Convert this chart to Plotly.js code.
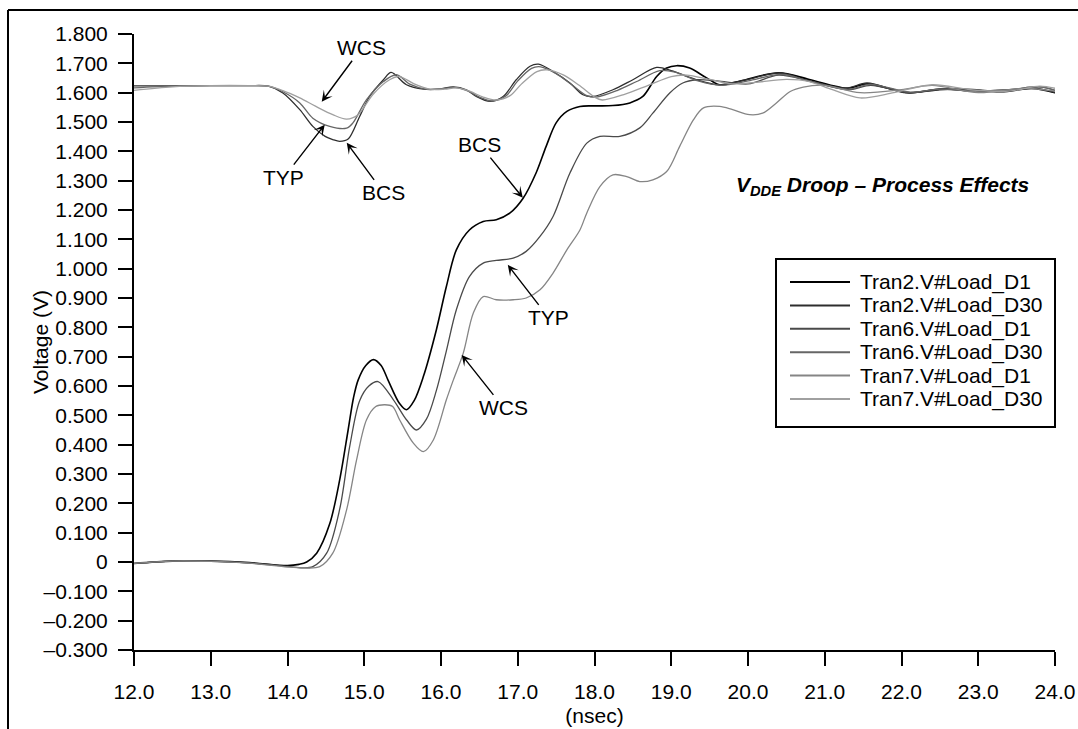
<!DOCTYPE html>
<html>
<head>
<meta charset="utf-8">
<script src="https://cdn.plot.ly/plotly-3.0.1.min.js"></script>
<style>html,body{margin:0;padding:0;background:#fff;}#chart{width:1078px;height:729px;}</style>
</head>
<body>
<div id="chart"></div>
<script>
// ---- Data (time in nsec, voltage in V) ----
const seriesNames = ["Tran2.V#Load_D1","Tran2.V#Load_D30","Tran6.V#Load_D1","Tran6.V#Load_D30","Tran7.V#Load_D1","Tran7.V#Load_D30"];

// BCS rising
const tran2_d1_t = [12.0,12.5,13.0,13.5,14.0,14.15,14.25,14.38,14.55,14.68,14.79,14.86,14.92,15.02,15.12,15.22,15.31,15.46,15.55,15.65,15.77,15.94,16.07,16.2,16.37,16.55,16.72,16.9,17.07,17.24,17.37,17.5,17.64,17.81,17.98,18.24,18.46,18.63,18.81,18.94,19.07,19.24,19.45,19.63,19.9,20.4,20.8,21.3,21.55,22.1,22.5,22.85,23.3,23.7,24.0];
const tran2_d1_v = [-0.005,0.003,0.003,-0.002,-0.012,-0.008,0.0,0.03,0.13,0.28,0.45,0.56,0.62,0.67,0.69,0.67,0.62,0.54,0.519,0.55,0.632,0.792,0.939,1.064,1.132,1.161,1.167,1.19,1.24,1.327,1.417,1.497,1.536,1.553,1.555,1.556,1.565,1.587,1.655,1.684,1.692,1.684,1.652,1.627,1.64,1.668,1.645,1.615,1.63,1.6,1.612,1.61,1.603,1.614,1.6];

// BCS droop
const tran2_d30_t = [12.0,12.5,13.0,13.5,13.75,13.94,14.16,14.33,14.49,14.59,14.68,14.79,14.94,15.07,15.25,15.35,15.55,15.77,15.98,16.16,16.33,16.46,16.64,16.81,16.98,17.16,17.27,17.46,17.68,17.85,17.98,18.24,18.5,18.81,19.0,19.33,19.63,19.98,20.41,20.8,21.28,21.55,22.07,22.5,22.85,23.3,23.71,24.0];
const tran2_d30_v = [1.623,1.623,1.624,1.624,1.622,1.599,1.542,1.485,1.451,1.44,1.434,1.442,1.519,1.587,1.644,1.669,1.627,1.612,1.612,1.62,1.61,1.587,1.57,1.587,1.644,1.69,1.697,1.672,1.633,1.593,1.587,1.61,1.644,1.686,1.675,1.644,1.627,1.644,1.667,1.64,1.616,1.633,1.599,1.61,1.612,1.605,1.616,1.6];

// TYP rising
const tran6_d1_t = [12.0,12.5,13.0,13.5,14.0,14.2,14.33,14.51,14.68,14.81,14.94,15.06,15.18,15.38,15.55,15.68,15.81,15.94,16.07,16.2,16.37,16.55,16.72,16.94,17.11,17.29,17.46,17.68,17.9,18.07,18.33,18.59,18.76,18.98,19.15,19.33,19.6,20.0,20.4,20.8,21.3,21.6,22.1,22.5,22.9,23.4,23.8,24.0];
const tran6_d1_v = [-0.005,0.003,0.003,-0.003,-0.015,-0.02,-0.016,0.03,0.18,0.393,0.55,0.6,0.615,0.553,0.485,0.45,0.487,0.585,0.72,0.86,0.973,1.019,1.028,1.036,1.059,1.11,1.178,1.326,1.428,1.451,1.451,1.48,1.53,1.599,1.633,1.644,1.64,1.63,1.66,1.64,1.61,1.625,1.6,1.612,1.606,1.61,1.62,1.608];

// TYP droop
const tran6_d30_t = [12.0,12.5,13.0,13.5,13.75,13.94,14.16,14.33,14.55,14.77,14.85,15.03,15.25,15.42,15.6,15.8,16.0,16.16,16.33,16.5,16.66,16.85,17.0,17.18,17.3,17.5,17.7,17.9,18.02,18.3,18.55,18.85,19.05,19.35,19.65,20.0,20.45,20.85,21.3,21.6,22.1,22.5,22.9,23.4,23.8,24.0];
const tran6_d30_v = [1.616,1.622,1.624,1.624,1.622,1.603,1.565,1.513,1.485,1.479,1.496,1.576,1.638,1.661,1.628,1.612,1.613,1.618,1.608,1.585,1.572,1.59,1.64,1.683,1.688,1.665,1.628,1.59,1.585,1.608,1.638,1.675,1.67,1.64,1.625,1.64,1.662,1.635,1.612,1.628,1.602,1.612,1.606,1.61,1.62,1.608];

// WCS rising
const tran7_d1_t = [12.0,12.5,13.0,13.5,14.0,14.2,14.42,14.59,14.77,14.9,15.03,15.15,15.27,15.37,15.46,15.64,15.77,15.9,16.07,16.16,16.29,16.42,16.55,16.72,16.94,17.11,17.29,17.46,17.64,17.81,17.9,18.07,18.24,18.42,18.59,18.76,18.94,19.11,19.29,19.42,19.63,19.8,20.02,20.19,20.37,20.55,20.72,21.0,21.46,22.0,22.4,23.0,23.6,24.0];
const tran7_d1_v = [-0.005,0.003,0.002,-0.004,-0.017,-0.02,-0.016,0.03,0.178,0.348,0.485,0.53,0.536,0.53,0.485,0.405,0.376,0.416,0.553,0.62,0.712,0.848,0.905,0.894,0.894,0.9,0.928,0.985,1.064,1.132,1.19,1.28,1.32,1.314,1.297,1.303,1.331,1.417,1.508,1.548,1.553,1.542,1.525,1.53,1.565,1.604,1.619,1.625,1.6,1.61,1.625,1.6,1.615,1.605];

// WCS droop
const tran7_d30_t = [12.0,12.5,13.0,13.5,13.75,13.94,14.16,14.37,14.59,14.77,14.92,15.11,15.33,15.46,15.65,15.85,16.05,16.2,16.38,16.55,16.72,16.9,17.05,17.25,17.38,17.6,17.8,18.0,18.1,18.4,18.7,19.0,19.2,19.5,19.8,20.1,20.5,20.8,21.1,21.46,21.9,22.4,22.9,23.4,23.8,24.0];
const tran7_d30_v = [1.608,1.62,1.624,1.624,1.622,1.607,1.582,1.553,1.525,1.51,1.525,1.593,1.644,1.655,1.63,1.612,1.612,1.616,1.604,1.585,1.575,1.59,1.63,1.672,1.678,1.66,1.625,1.585,1.575,1.595,1.625,1.655,1.66,1.645,1.63,1.635,1.645,1.638,1.61,1.582,1.6,1.627,1.61,1.605,1.622,1.615];

const xTickVals = [12,13,14,15,16,17,18,19,20,21,22,23,24];
const yTickVals = [1.8,1.7,1.6,1.5,1.4,1.3,1.2,1.1,1.0,0.9,0.8,0.7,0.6,0.5,0.4,0.3,0.2,0.1,0,-0.1,-0.2,-0.3];
const yTickText = ["1.800","1.700","1.600","1.500","1.400","1.300","1.200","1.100","1.000","0.900","0.800","0.700","0.600","0.500","0.400","0.300","0.200","0.100","0","\u20130.100","\u20130.200","\u20130.300"];

const seriesT = [tran2_d1_t,tran2_d30_t,tran6_d1_t,tran6_d30_t,tran7_d1_t,tran7_d30_t];
const seriesV = [tran2_d1_v,tran2_d30_v,tran6_d1_v,tran6_d30_v,tran7_d1_v,tran7_d30_v];
const seriesColors = ["#000000","#2e2e2e","#4a4a4a","#666666","#858585","#a0a0a0"];
const seriesWidths = [1.6,1.3,1.3,1.3,1.3,1.3];

const FONT = '"Liberation Sans", Arial, Helvetica, sans-serif';

const traces = seriesNames.map((n,i)=>({
  type:'scatter', mode:'lines', name:n, showlegend:false,
  x: seriesT[i], y: seriesV[i],
  line:{color:seriesColors[i], width:seriesWidths[i], shape:'spline', smoothing:0.9}
}));

// plot area geometry (pixels) for placing non-data decorations in paper units
const PL = 134, PR = 1055, PT = 34, PB = 650;
const px = v => (v - PL) / (PR - PL);
const py = v => (PB - v) / (PB - PT);

// arrow labels (tip in data coordinates, text offset in pixels)
const annoLabels = ["WCS","TYP","BCS","BCS","TYP","WCS"];
const annoTipX = [14.446,14.485,14.772,17.066,16.87,16.27];
const annoTipY = [1.569,1.491,1.429,1.242,1.013,0.706];
const annoAx = [40,-41,37,-43,41,42];
const annoAy = [-54,53,50,-53,53,53];

const annotations = annoLabels.map((t,i)=>({
  x:annoTipX[i], y:annoTipY[i], xref:'x', yref:'y', text:t,
  showarrow:true, ax:annoAx[i], ay:annoAy[i],
  arrowhead:3, arrowsize:1.3, arrowwidth:1.4, arrowcolor:'#000',
  font:{family:FONT,size:21,color:'#000'}
}));
annotations.push({
  xref:'paper', yref:'paper', x:px(882.5), y:py(186), xanchor:'center', yanchor:'middle',
  showarrow:false,
  text:'<b><i>V<sub>DDE</sub> Droop \u2013 Process Effects</i></b>',
  font:{family:FONT,size:21,color:'#000'}
});
// y-axis title
annotations.push({
  xref:'paper', yref:'paper', x:px(40), y:py(342), xanchor:'center', yanchor:'middle',
  showarrow:false, textangle:-90, text:'Voltage (V)',
  font:{family:FONT,size:21,color:'#000'}
});

// legend box drawn from the series names and colours
const shapes = [
  {type:'line', xref:'paper', yref:'paper', x0:px(8), x1:1.03, y0:py(10), y1:py(10), line:{color:'#000', width:2}},
  {type:'line', xref:'paper', yref:'paper', x0:px(8), x1:px(8), y0:py(10), y1:-0.15, line:{color:'#000', width:2}},
  {type:'rect', xref:'paper', yref:'paper', x0:px(776), x1:px(1055), y0:py(259), y1:py(427), line:{color:'#000', width:2}, fillcolor:'#fff', layer:'above'}
];
const legRow0 = 282, legStep = 23.4;
seriesNames.forEach((n,i)=>{
  const yy = py(legRow0 + i*legStep);
  shapes.push({type:'line', xref:'paper', yref:'paper', x0:px(790), x1:px(850), y0:yy, y1:yy,
    line:{color:seriesColors[i], width:2}, layer:'above'});
  annotations.push({xref:'paper', yref:'paper', x:px(858), y:yy, xanchor:'left', yanchor:'middle',
    showarrow:false, text:n, font:{family:FONT,size:21,color:'#000'}});
});

const layout = {
  width:1078, height:729,
  margin:{l:PL, r:1078-PR, t:PT, b:729-PB, pad:0},
  paper_bgcolor:'#fff', plot_bgcolor:'#fff',
  font:{family:FONT, size:21, color:'#000'},
  showlegend:false,
  xaxis:{
    range:[12,24], tickvals:xTickVals, tickformat:'.1f',
    ticks:'outside', ticklen:14, tickwidth:2, tickcolor:'#000',
    ticklabelstandoff:8,
    showline:true, linewidth:2, linecolor:'#000',
    showgrid:false, zeroline:false,
    tickfont:{family:FONT,size:21,color:'#000'},
    title:{text:'(nsec)', font:{family:FONT,size:21,color:'#000'}, standoff:6}
  },
  yaxis:{
    range:[-0.3,1.8], tickvals:yTickVals, ticktext:yTickText,
    ticks:'outside', ticklen:14, tickwidth:2, tickcolor:'#000',
    ticklabelstandoff:6,
    showline:true, linewidth:2, linecolor:'#000',
    showgrid:false, zeroline:false,
    tickfont:{family:FONT,size:21,color:'#000'}
  },
  shapes:shapes,
  annotations:annotations
};

Plotly.newPlot('chart', traces, layout, {displayModeBar:false, staticPlot:true});
</script>
</body>
</html>
